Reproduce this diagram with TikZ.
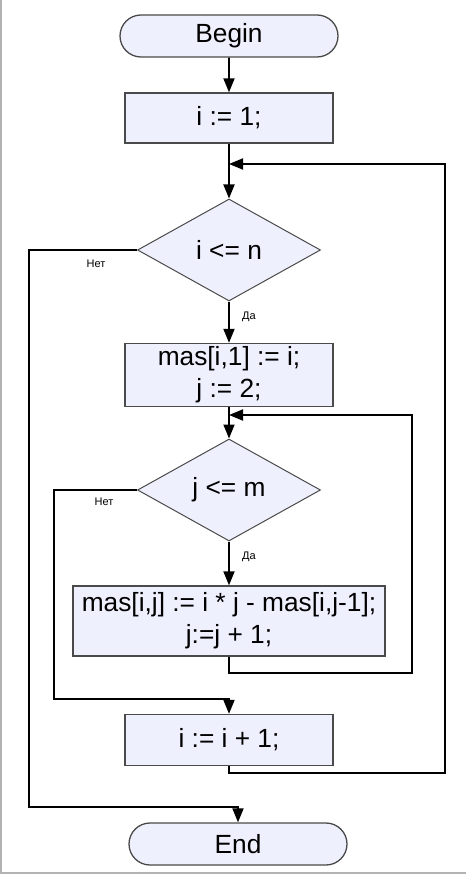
\documentclass[tikz,border=0pt]{standalone}
\usepackage{fontspec}
\setmainfont{Liberation Sans}
\usetikzlibrary{shapes.geometric,shapes.misc,arrows.meta}
\definecolor{boxfill}{HTML}{EEF0FD}
\definecolor{boxline}{HTML}{4A4A4A}
\begin{document}
\begin{tikzpicture}[x=1pt, y=-1pt,
        term/.style={rounded rectangle, draw=boxline, fill=boxfill, line width=1.3pt, minimum width=218pt, minimum height=42pt, inner sep=0pt, font=\fontsize{26.3}{32}\selectfont},
        proc/.style={rectangle, draw=boxline, fill=boxfill, line width=1.3pt, minimum width=208pt, inner sep=0pt, align=center, font=\fontsize{26.3}{32}\selectfont},
        cond/.style={diamond, draw=boxline, fill=boxfill, line width=1pt, minimum width=183pt, minimum height=102pt, inner sep=0pt, font=\fontsize{26.3}{32}\selectfont},
        lbl/.style={font=\fontsize{11}{13}\selectfont, inner sep=0pt},
        arrow/.style={-{Triangle[length=14pt, width=11pt]}, line width=1.8pt}
    ]
    \useasboundingbox (0,0) rectangle (466,874);
    \draw[black!30, line width=1.5pt] (0.8,0) -- (0.8,873) -- (466,873);

    \node[term] (begin) at (229,36) {Begin};
    \node[proc, minimum height=50pt] (init) at (229,118) {i := 1;};
    \node[cond] (cond1) at (229,250) {i <= n};
    \node[proc, minimum height=63pt] (body1) at (229,375) {mas[i,1] := i;\\j := 2;};
    \node[cond] (cond2) at (229,490) {j <= m};
    \node[proc, minimum width=312pt, minimum height=70pt] (body2) at (229,621) {mas[i,j] := i * j - mas[i,j-1];\\j:=j + 1;};
    \node[proc, minimum height=51pt] (incr) at (229,740) {i := i + 1;};
    \node[term] (finish) at (238,844) {End};

    \node[lbl] (no1) at (96,264) {Нет};
    \node[lbl] (yes1) at (249,317) {Да};
    \node[lbl] (no2) at (104,502) {Нет};
    \node[lbl] (yes2) at (249,557) {Да};

    \coordinate (outer) at (29,807);
    \coordinate (inner) at (54,699);
    \coordinate (jloop) at (412,673);
    \coordinate (jin) at (229,415);
    \coordinate (iloop) at (445,773);
    \coordinate (iin) at (229,164);

    \draw[arrow] (begin) -- (init);
    \draw[arrow] (init) -- (cond1);
    \draw[arrow] (cond1) -- (body1);
    \draw[arrow] (body1) -- (cond2);
    \draw[arrow] (cond2) -- (body2);
    \draw[arrow] (body2.south) |- (jloop) |- (jin);
    \draw[arrow] (cond2.west) -| (inner) -| (incr.north);
    \draw[arrow] (incr.south) |- (iloop) |- (iin);
    \draw[arrow] (cond1.west) -| (outer) -| (finish.north);

    \end{tikzpicture}
\end{document}
